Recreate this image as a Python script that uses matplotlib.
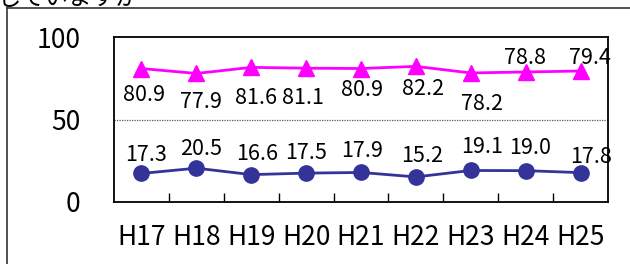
import matplotlib
matplotlib.use('Agg')
import matplotlib.pyplot as plt
from matplotlib.lines import Line2D

plt.rcParams['font.family'] = ['Noto Sans CJK JP', 'DejaVu Sans']

years = ["H17", "H18", "H19", "H20", "H21", "H22", "H23", "H24", "H25"]
upper = [80.9, 77.9, 81.6, 81.1, 80.9, 82.2, 78.2, 78.8, 79.4]
lower = [17.3, 20.5, 16.6, 17.5, 17.9, 15.2, 19.1, 19.0, 17.8]

# label offsets in pixels (dx, dy)
upper_off = [(3, -26), (5, -29), (5, -31), (-3, -30), (1, -21), (7, -23), (11, -31), (-1, 14), (9, 13)]
lower_off = [(5, 18), (5, 19), (6, 21), (0, 20), (1, 21), (6, 21), (11, 23), (4, 23), (11, 16)]

fig = plt.figure(figsize=(6.3, 2.64), dpi=100)
ax = fig.add_axes([114 / 630, 62 / 264, 494 / 630, 165 / 264])

x = list(range(len(years)))
ax.plot(x, upper, color="#FF00FF", lw=2, marker="^", ms=11, zorder=3)
ax.plot(x, lower, color="#333399", lw=2, marker="o", ms=11, zorder=3)

for i in x:
    ax.annotate(f"{upper[i]:.1f}", (i, upper[i]), xytext=upper_off[i],
                textcoords="offset pixels", ha="center", va="center", fontsize=15.5)
    ax.annotate(f"{lower[i]:.1f}", (i, lower[i]), xytext=lower_off[i],
                textcoords="offset pixels", ha="center", va="center", fontsize=15.5)

ax.set_xlim(-0.5, len(years) - 0.5)
ax.set_ylim(0, 100)
ax.set_yticks([0, 50, 100])
ax.tick_params(axis="y", length=0, pad=24, labelsize=19)
ax.set_xticks(x)
ax.set_xticklabels(years)
ax.tick_params(axis="x", which="major", length=0, pad=16, labelsize=19)
ax.set_xticks([i + 0.5 for i in x[:-1]], minor=True)
ax.tick_params(axis="x", which="minor", direction="in", length=6.5, width=1)
ax.axhline(50, color="#555555", lw=0.9, ls=(0, (1, 1)), zorder=1)
for s in ax.spines.values():
    s.set_linewidth(1.3)

# outer chart frame
fig.add_artist(Line2D([7 / 630, 7 / 630], [0, 1 - 8 / 264], color="#333333", lw=1.2))
fig.add_artist(Line2D([7 / 630, 1], [1 - 8 / 264, 1 - 8 / 264], color="#333333", lw=1.2))

# clipped heading text above the chart
fig.text(-0.004, 1 - 5 / 264, "じていますか", fontsize=17, va="baseline", ha="left")

fig.savefig("out.png", dpi=100)
plt.close()
